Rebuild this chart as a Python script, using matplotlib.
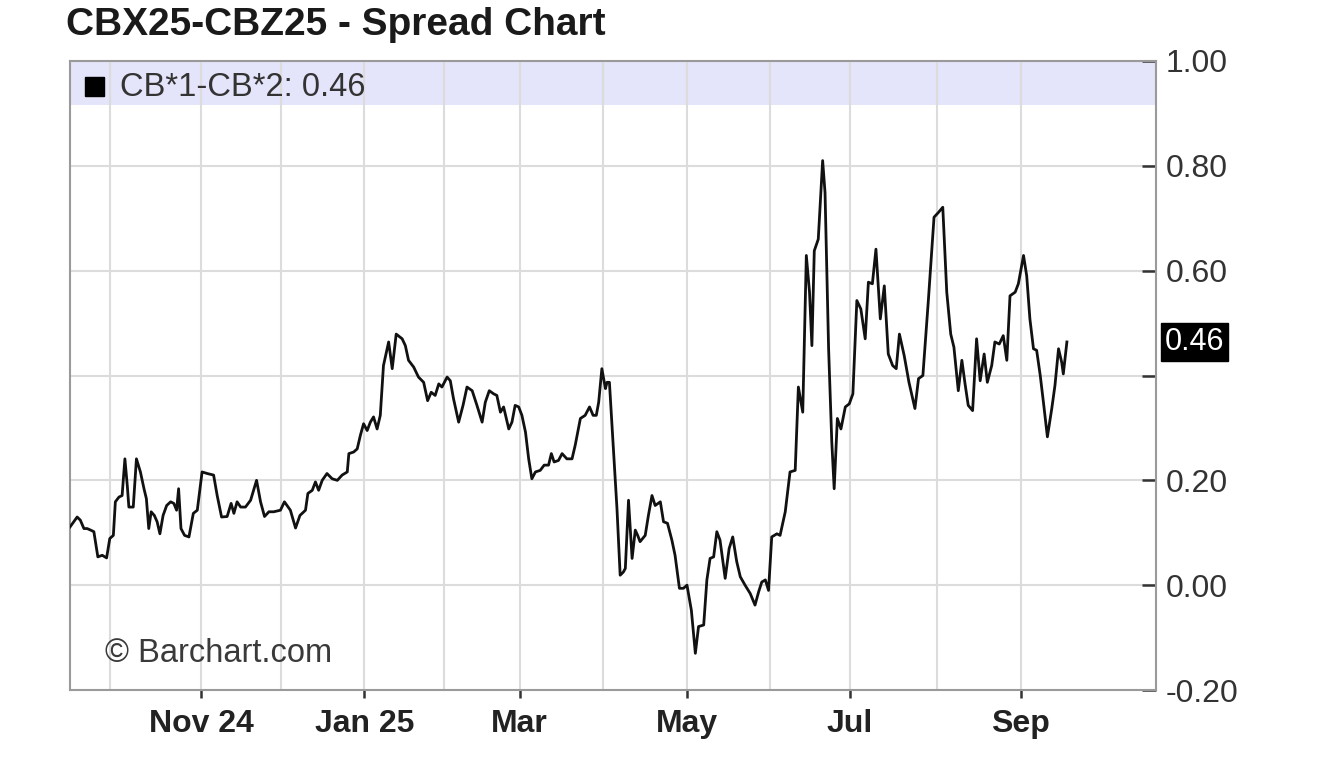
import numpy as np
import pandas as pd
import matplotlib
matplotlib.use("Agg")
import matplotlib.pyplot as plt
from matplotlib.patches import Rectangle

plt.rcParams['font.family'] = ['Liberation Sans', 'DejaVu Sans']

# ---------------- data ----------------
title = "CBX25-CBZ25 - Spread Chart"
series_name = "CB*1-CB*2"
start_date = "2024-09-17"
holidays = ["2024-11-28", "2024-12-25", "2025-01-01", "2025-01-09", "2025-01-20",
            "2025-02-17", "2025-04-18", "2025-05-26", "2025-06-19", "2025-07-04",
            "2025-09-01"]

# position in trading days since start_date
trade_day = [
    0.0, 1.8, 2.6, 3.5, 4.3, 5.2, 6.0, 7.0, 8.1, 9.2, 10.0, 10.9, 11.4, 12.3, 13.1,
    13.8, 14.4, 14.8, 15.9, 16.7, 17.7, 18.6, 19.2, 19.8, 20.4, 21.2, 21.9, 22.6,
    23.4, 24.3, 25.3, 26.1, 26.8, 27.3, 27.9, 28.8, 29.9, 31.0, 32.0, 33.2, 34.5,
    36.1, 37.0, 38.1, 39.5, 40.5, 41.2, 42.0, 42.9, 44.1, 45.4, 46.9, 47.9, 48.9,
    50.0, 51.2, 52.9, 53.9, 55.4, 56.7, 57.8, 59.2, 59.8, 60.9, 61.7, 62.5, 63.4,
    64.6, 65.9, 67.2, 68.4, 69.7,
    70.1, 71.3, 72.2, 73.0, 73.8, 74.7, 75.5, 76.3, 77.2, 78.0, 78.8, 80.1, 81.0,
    82.0, 83.5, 84.3, 85.1, 86.4, 87.6, 88.9, 89.9, 90.8, 91.8, 92.7, 93.5, 94.8,
    95.6, 96.4, 97.7, 98.8, 99.8, 101.1, 102.3, 103.6, 104.4, 105.4, 106.5, 107.3,
    108.2, 109.0, 109.6, 110.3, 111.1, 111.9, 112.8, 113.6, 114.5, 115.3, 116.1,
    117.0, 118.2, 119.2, 120.3, 121.0, 121.7, 122.8, 123.7, 124.9, 126.2, 127.0,
    128.3, 129.5, 130.6, 131.5, 132.3, 132.9, 133.7, 134.6, 135.0, 135.6,
    136.6, 137.5, 138.3, 139.1, 139.6, 140.4, 141.3, 142.1, 142.7, 143.3, 144.6,
    145.4, 146.3, 147.1, 148.4, 149.2, 150.2, 151.3, 152.1, 153.2, 154.2, 155.1,
    156.2, 157.2, 158.0, 159.3, 160.1, 160.9, 161.8, 162.6, 163.4, 164.7, 165.7,
    166.6, 167.6, 168.5, 169.7, 171.0, 172.2, 173.1, 173.9, 174.8, 175.6, 176.4,
    177.7, 178.5, 179.8, 181.0, 182.3,
    183.1, 184.2, 185.1, 185.9, 186.5, 187.1, 188.1, 189.2, 189.8, 190.7, 191.5,
    192.1, 192.9, 193.8, 194.9, 195.9, 196.8, 197.8, 198.8, 199.9, 200.7, 201.7,
    202.6, 203.7, 204.7, 205.7, 206.8, 207.7, 208.5, 209.7, 210.9, 212.4, 213.3,
    214.4, 215.8, 217.2, 218.3, 219.4, 220.4, 221.4,
    222.2, 223.3, 224.2, 225.0, 225.8, 226.9, 227.9, 228.8, 229.8, 230.6, 231.7,
    232.5, 233.6, 234.6, 235.5, 236.3, 237.6, 238.4, 239.7, 240.5, 241.3, 242.2,
    243.0, 243.9, 244.7, 245.7, 246.8, 247.6, 248.5, 249.3, 249.7, 250.6,
]

spread = [
    0.111, 0.130, 0.124, 0.108, 0.108, 0.105, 0.102, 0.054, 0.057, 0.052, 0.089,
    0.095, 0.159, 0.168, 0.171, 0.241, 0.190, 0.149, 0.149, 0.241, 0.216, 0.184,
    0.165, 0.108, 0.140, 0.133, 0.121, 0.098, 0.133, 0.152, 0.159, 0.156, 0.143,
    0.184, 0.108, 0.095, 0.092, 0.137, 0.143, 0.216, 0.213, 0.210, 0.171, 0.130,
    0.131, 0.156, 0.137, 0.159, 0.149, 0.149, 0.162, 0.200, 0.159, 0.131, 0.140,
    0.140, 0.143, 0.159, 0.143, 0.109, 0.133, 0.143, 0.175, 0.181, 0.197, 0.181,
    0.200, 0.213, 0.203, 0.200, 0.210, 0.216,
    0.251, 0.254, 0.260, 0.286, 0.308, 0.295, 0.311, 0.321, 0.298, 0.324, 0.419,
    0.464, 0.413, 0.479, 0.470, 0.457, 0.429, 0.416, 0.397, 0.387, 0.352, 0.368,
    0.362, 0.384, 0.378, 0.397, 0.390, 0.356, 0.311, 0.343, 0.378, 0.371, 0.343,
    0.311, 0.349, 0.371, 0.365, 0.362, 0.330, 0.340, 0.321, 0.298, 0.311, 0.343,
    0.340, 0.324, 0.292, 0.241, 0.203, 0.216, 0.219, 0.229, 0.229, 0.251, 0.235,
    0.238, 0.251, 0.241, 0.241, 0.267, 0.318, 0.324, 0.340, 0.324, 0.324, 0.349,
    0.413, 0.375, 0.387, 0.387,
    0.260, 0.146, 0.019, 0.025, 0.032, 0.162, 0.051, 0.105, 0.095, 0.083, 0.095,
    0.133, 0.171, 0.152, 0.159, 0.121, 0.118, 0.086, 0.057, -0.006, -0.006, 0.000,
    -0.048, -0.130, -0.079, -0.076, 0.010, 0.051, 0.054, 0.102, 0.086, 0.013,
    0.070, 0.092, 0.045, 0.016, 0.000, -0.016, -0.038, -0.013, 0.006, 0.010,
    -0.010, 0.092, 0.098, 0.095, 0.140, 0.216, 0.219,
    0.378, 0.330, 0.629, 0.559, 0.457, 0.638, 0.660, 0.810, 0.749, 0.451, 0.273,
    0.184, 0.318, 0.298, 0.340, 0.346, 0.365, 0.543, 0.527, 0.470, 0.578, 0.575,
    0.641, 0.508, 0.571, 0.441, 0.419, 0.413, 0.479, 0.438, 0.387, 0.337, 0.394,
    0.400, 0.546, 0.702, 0.711, 0.721, 0.559, 0.479,
    0.454, 0.371, 0.429, 0.384, 0.343, 0.333, 0.470, 0.390, 0.441, 0.387, 0.419,
    0.464, 0.460, 0.476, 0.429, 0.552, 0.559, 0.575, 0.629, 0.590, 0.508, 0.451,
    0.448, 0.400, 0.349, 0.283, 0.337, 0.381, 0.451, 0.425, 0.403, 0.464,
]

grid_months = ["2024-10", "2024-11", "2024-12", "2025-01", "2025-02", "2025-03",
               "2025-04", "2025-05", "2025-06", "2025-07", "2025-08", "2025-09"]
labeled_months = {"2024-11": "Nov 24", "2025-01": "Jan 25", "2025-03": "Mar",
                  "2025-05": "May", "2025-07": "Jul", "2025-09": "Sep"}

y_ticks = [-0.2, 0.0, 0.2, 0.4, 0.6, 0.8, 1.0]
y_tick_labels = ["-0.20", "0.00", "0.20", "", "0.60", "0.80", "1.00"]
y_range = (-0.2, 1.0)
day_range = (0, 273)

# ---------------- trading calendar ----------------
cal = pd.bdate_range(start_date, "2025-12-31")
cal = cal[~cal.isin(pd.to_datetime(holidays))]
pos = pd.Series(np.arange(len(cal)), index=cal)
first_pos = pos.groupby(cal.to_period("M").astype(str)).min()
grid_pos = [first_pos[m] for m in grid_months]
major_pos = [first_pos[m] for m in labeled_months]
major_lab = list(labeled_months.values())

# ---------------- figure ----------------
W, H = 1320, 764
fig = plt.figure(figsize=(W / 100, H / 100), dpi=100)
ax = fig.add_axes([70 / W, 1 - 690 / H, (1156 - 70) / W, (690 - 61) / H])

grid_c = "#dcdcdc"
ax.set_xlim(*day_range)
ax.set_ylim(*y_range)
ax.set_axisbelow(True)

# vertical month grid and horizontal value grid
for p in grid_pos:
    ax.axvline(p, color=grid_c, lw=1.5, zorder=0.5)
for yv in y_ticks[1:-1]:
    ax.axhline(yv, color=grid_c, lw=1.5, zorder=0.5)

# legend band
ax.axhspan(0.917, 1.0, color="#e4e4fa", lw=0, zorder=0.2)

ax.plot(trade_day, spread, color="#111111", lw=2.0, zorder=3)

# axes styling
for s in ax.spines.values():
    s.set_color("#9a9a9a")
    s.set_linewidth(1.5)

ax.set_xticks(major_pos)
ax.set_xticklabels(major_lab, fontsize=23, fontweight="bold", color="#222222")
ax.tick_params(axis="x", direction="out", length=6, width=1.8, color="#333333", pad=8)

ax.yaxis.tick_right()
ax.set_yticks(y_ticks)
ax.set_yticklabels(y_tick_labels, fontsize=23, color="#333333")
ax.tick_params(axis="y", direction="in", length=10, width=1.8, color="#333333", pad=7,
               right=True, left=False)

# legend marker and text
ax.add_patch(Rectangle((0.0138, 0.9445), 0.0175, 0.030, transform=ax.transAxes,
                       color="black", zorder=4))
ax.text(0.046, 0.958, f"{series_name}: {spread[-1]:.2f}", transform=ax.transAxes,
        fontsize=23.5, color="#333333", va="center", ha="left", zorder=4)

# watermark
ax.text(0.032, 0.058, "\u00a9 Barchart.com", transform=ax.transAxes,
        fontsize=23.5, color="#3a3a3a", va="center", ha="left", zorder=4)

# last-value label
ax.annotate(f"{spread[-1]:.2f}", xy=(1, spread[-1]), xycoords=("axes fraction", "data"),
            xytext=(6, 0), textcoords="offset points", fontsize=22, color="white",
            va="center", ha="left",
            bbox=dict(boxstyle="square,pad=0.12", fc="black", ec="black"), zorder=5,
            annotation_clip=False)

fig.text(66 / W, 1 - 25 / H, title, fontsize=28, fontweight="bold", color="#1a1a1a",
         va="center", ha="left")

fig.savefig("out.png", dpi=100, facecolor="white")
